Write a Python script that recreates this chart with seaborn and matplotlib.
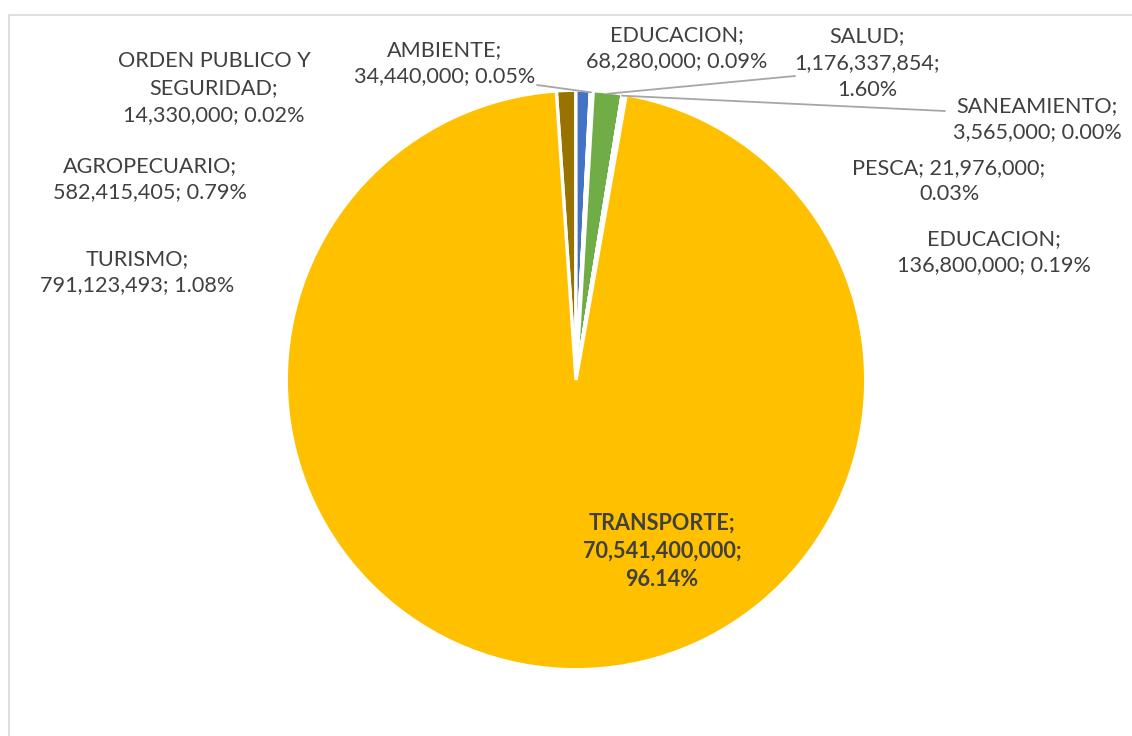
import numpy as np
import matplotlib
matplotlib.use("Agg")
import matplotlib.pyplot as plt
from matplotlib.patches import Rectangle
import seaborn as sns

# sectors, clockwise from the top of the pie
sectors = ["TURISMO", "AGROPECUARIO", "ORDEN PUBLICO Y\nSEGURIDAD", "AMBIENTE",
           "EDUCACION", "SALUD", "SANEAMIENTO", "PESCA", "EDUCACION", "TRANSPORTE"]
amounts = [791123493, 582415405, 14330000, 34440000, 68280000,
           1176337854, 3565000, 21976000, 136800000, 70541400000]
colors = ["#997300", "#4472C4", "#A5A5A5", "#5B9BD5", "#ED7D31",
          "#70AD47", "#264478", "#9E480E", "#636363", "#FFC000"]

# label text layout (pixel centres of each label block, as in the source)
label_text = [
    "TURISMO;\n791,123,493; 1.08%",
    "AGROPECUARIO;\n582,415,405; 0.79%",
    "ORDEN PUBLICO Y\nSEGURIDAD;\n14,330,000; 0.02%",
    "AMBIENTE;\n34,440,000; 0.05%",
    "EDUCACION;\n68,280,000; 0.09%",
    "SALUD;\n1,176,337,854;\n1.60%",
    "SANEAMIENTO;\n3,565,000; 0.00%",
    "PESCA; 21,976,000;\n0.03%",
    "EDUCACION;\n136,800,000; 0.19%",
    "TRANSPORTE;\n70,541,400,000;\n96.14%",
]
label_px = [(137, 272), (150, 179), (214, 88), (445, 63), (677, 48),
            (867, 63), (1037, 119), (949, 181), (994, 252), (662, 551)]
# leader lines: (label index, start pixel at the text)
leaders = [(3, (537, 85)), (5, (795, 76)), (6, (945, 111))]

W, H = 1132, 736
cx, cy, R = 576, 380, 288

sns.set_theme(style="white")
plt.rcParams["font.family"] = ["Lato", "DejaVu Sans"]

fig = plt.figure(figsize=(W / 100, H / 100), dpi=100)
ax = fig.add_axes([0, 0, 1, 1])

fig.patches.append(Rectangle((8.5 / W, -0.1), 1.2, 1.1 - 15 / H, transform=fig.transFigure,
                             fill=False, edgecolor="#D9D9D9", linewidth=1.2, zorder=0))

wedges, _ = ax.pie(amounts, colors=sns.color_palette(colors), startangle=93.9,
                   counterclock=False, radius=1.006,
                   wedgeprops=dict(edgecolor="white", linewidth=2.4))

# pie() resets limits, so set them afterwards
ax.set_xlim(-cx / R, (W - cx) / R)
ax.set_ylim(-(H - cy) / R, cy / R)
ax.set_aspect("equal")
ax.axis("off")


def px2d(p):
    return ((p[0] - cx) / R, (cy - p[1]) / R)


for i, txt in enumerate(label_text):
    x, y = px2d(label_px[i])
    bold = sectors[i] == "TRANSPORTE"
    ax.text(x, y, txt, ha="center", va="center", fontsize=15.6, color="#404040",
            fontweight="bold" if bold else "normal", linespacing=1.42)

for i, start in leaders:
    w = wedges[i]
    mid = np.deg2rad((w.theta1 + w.theta2) / 2)
    ex, ey = np.cos(mid) * 1.0, np.sin(mid) * 1.0
    sx, sy = px2d(start)
    ax.plot([sx, ex], [sy, ey], color="#A6A6A6", linewidth=1.3, zorder=5)

fig.savefig("out.png", dpi=100)
